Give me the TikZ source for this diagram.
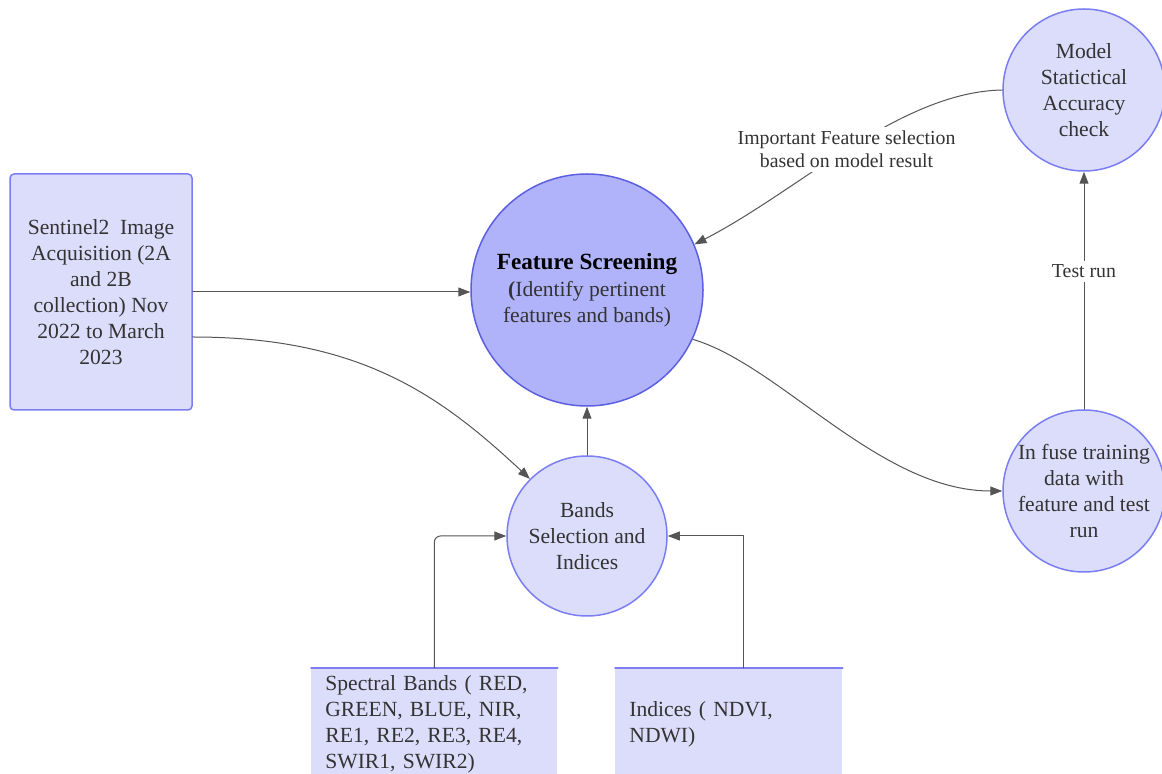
\documentclass[tikz,border=0pt]{standalone}
\usepackage{fontspec}
\setmainfont{Liberation Serif}
\usetikzlibrary{arrows.meta,calc}
\definecolor{lav}{HTML}{DCDDFB}
\definecolor{lavedge}{HTML}{7A7EF2}
\definecolor{core}{HTML}{B0B3FA}
\definecolor{coreedge}{HTML}{5B5FE0}
\definecolor{ink}{HTML}{333333}
\definecolor{wire}{HTML}{555555}
\newcommand{\mainfs}{\fontsize{10.8pt}{13pt}\selectfont}
\newcommand{\notefs}{\fontsize{9.9pt}{11.5pt}\selectfont}
\tikzset{
  >={Triangle[length=6pt,width=4.5pt]},
  srcbox/.style={draw=lavedge,fill=lav,rounded corners=2pt,line width=0.75pt,
                 minimum width=91pt,minimum height=118pt,align=center,
                 text=ink,font=\mainfs},
  stepcirc/.style={circle,draw=lavedge,fill=lav,line width=0.75pt,
                   minimum size=81pt,inner sep=0pt,align=center,
                   text=ink,font=\mainfs},
  corecirc/.style={circle,draw=coreedge,fill=core,line width=0.75pt,
                   minimum size=116pt,inner sep=0pt,align=center,
                   text=ink,font=\mainfs},
  inbox/.style={fill=lav,minimum height=56pt,inner xsep=7pt,inner ysep=1pt,
                align=left,text=ink,font=\mainfs,anchor=north west},
  arrow/.style={->,draw=wire,line width=0.5pt},
  notelbl/.style={fill=white,text=ink,font=\notefs,align=center,inner sep=2pt}
}

\begin{document}
\begin{tikzpicture}[x=0.5pt,y=-0.5pt,line cap=round,line join=round]
  \useasboundingbox (0,0) rectangle (1162,774);

  % Nodes
  \node[srcbox] (src) at (101,292)
    {Sentinel2\ \ Image\\Acquisition (2A\\and 2B\\collection) Nov\\2022 to March\\2023};
  \node[corecirc] (feat) at (587,290)
    {\textcolor{black}{\fontsize{11.6pt}{13pt}\selectfont\bfseries Feature Screening}\\[0.6pt]
     \textbf{(}Identify pertinent\\features and bands)};
  \node[stepcirc,minimum size=80pt] (bands) at (587,536)
    {Bands\\Selection and\\Indices};
  \node[stepcirc] (model) at (1084,90)
    {Model\\Statictical\\Accuracy\\check};
  \node[stepcirc] (fuse) at (1084,491)
    {In fuse training\\data with\\feature and test\\run};
  \node[inbox,minimum width=123pt,text width=109pt] (spec) at (311,668)
    {Spectral Bands ( RED,\\GREEN, BLUE, NIR,\\RE1, RE2, RE3, RE4,\\SWIR1, SWIR2)};
  \node[inbox,minimum width=113.5pt,text width=99.5pt] (idx) at (615,668)
    {Indices ( NDVI,\\NDWI)};
  \draw[lavedge,line width=0.75pt] (spec.north west) -- (spec.north east);
  \draw[lavedge,line width=0.75pt] (idx.north west) -- (idx.north east);

  % Connectors
  \coordinate (src2) at ($(src.east)+(0,45)$);
  \coordinate (idxtap) at ($(idx.north west)!0.562!(idx.north east)$);
  \draw[arrow] (src.east) -- (src.east -| feat.west);
  \draw[arrow] (src2) .. controls (360,337) and (440,395) .. (bands.135);
  \draw[arrow] (bands.north) -- (feat.south);
  \draw[arrow,rounded corners=3pt] (spec.north) |- (bands.west);
  \draw[arrow] (idxtap) |- (bands.east);
  \draw[arrow] (feat.-25) .. controls (780,365) and (880,491) .. (fuse.west);
  \draw[arrow] (fuse.north) -- (model.south)
    node[notelbl,pos=0.58] {Test run};
  \draw[arrow] (model.west) .. controls (900,92) and (800,190) .. (feat.23)
    node[notelbl,pos=0.51] {Important Feature selection\\based on model result};
\end{tikzpicture}
\end{document}
